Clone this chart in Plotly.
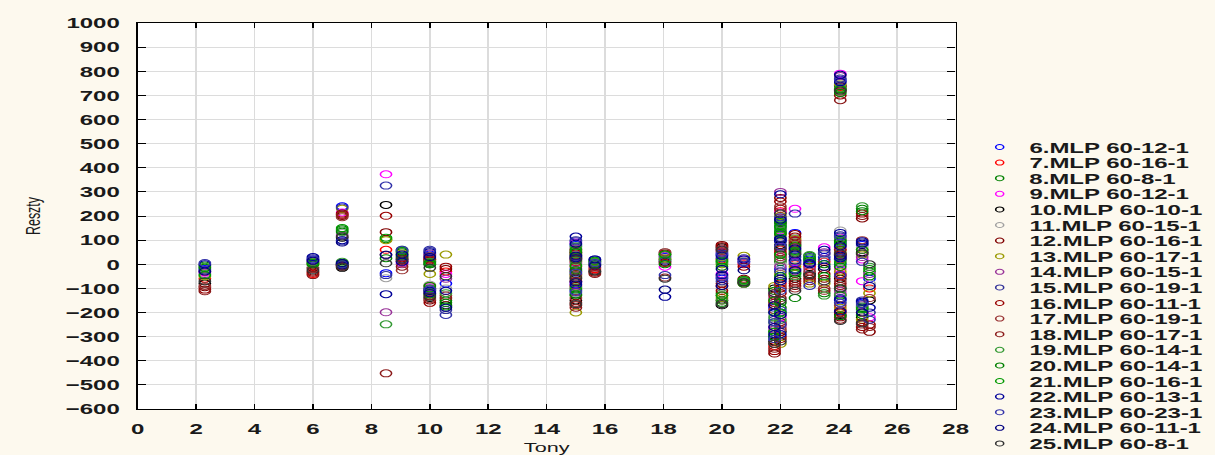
import plotly.graph_objects as go

# Observation positions (Tony) shared by every model series
x_tony = [2.3, 6.0, 7.0, 7.0, 8.5, 9.05, 10.0, 10.0, 10.55, 15.0, 15.0, 15.0, 15.65, 18.05,
          20.0, 20.0, 20.75, 21.8, 21.8, 22.0, 22.0, 22.0, 22.0, 22.5, 22.5, 23.0, 23.5,
          24.05, 24.05, 24.05, 24.05, 24.8, 24.8, 25.05]

series_names = ["6.MLP 60-12-1", "7.MLP 60-16-1", "8.MLP 60-8-1", "9.MLP 60-12-1",
                "10.MLP 60-10-1", "11.MLP 60-15-1", "12.MLP 60-16-1", "13.MLP 60-17-1",
                "14.MLP 60-15-1", "15.MLP 60-19-1", "16.MLP 60-11-1", "17.MLP 60-19-1",
                "18.MLP 60-17-1", "19.MLP 60-14-1", "20.MLP 60-14-1", "21.MLP 60-16-1",
                "22.MLP 60-13-1", "23.MLP 60-23-1", "24.MLP 60-11-1", "25.MLP 60-8-1"]

series_colors = ["#0000FF", "#FF0000", "#008000", "#FF00FF", "#000000", "#A0A0A0",
                 "#800000", "#9A9A00", "#993399", "#333399", "#990000", "#993333",
                 "#8B1A1A", "#339933", "#008000", "#009900", "#000099", "#3333AA",
                 "#000080", "#333333"]

s6 = [-20, 20, 240, 0, -37, 20, 40, -100, -80, 80, -20, -110, 0, 30, 40, -60, 10, -300, -180, 180, 100, -20, -200, 130, -20, 20, 30, 760, 90, 0, -150, 80, -160, -60]
s7 = [-60, -40, 205, -5, 60, 10, 20, -120, -30, 60, 10, -90, -20, 20, 20, -90, 0, -340, -150, 220, 60, -80, -250, 100, 0, -10, 10, 735, 60, -40, -190, 60, -200, -100]
s8 = [-5, 5, 145, 5, 104, 50, 10, -110, -150, 40, -40, -130, 10, 40, 10, -120, -70, -280, -200, 160, 130, 10, -180, 90, -40, 35, -120, 720, 100, 20, -130, 230, -180, -30]
s9 = [-35, 10, 215, 0, 373, 5, 30, -95, -40, 90, 20, -80, -10, -10, 60, -40, 20, -260, -120, 215, 140, 30, -220, 230, 10, 0, 70, 790, 110, -20, -120, 20, -70, -220]
s10 = [-80, -15, 110, -15, 246, 30, 0, -140, -170, 30, -60, -150, -30, 10, 70, -170, -75, -320, -100, 170, 80, -60, -280, 80, -60, -40, -20, 740, 80, -60, -210, 50, -220, -150]
s11 = [-40, -5, 130, 0, -58, 40, 5, -85, -100, 70, 0, -120, 15, 50, 30, -100, 15, -250, -210, 190, 90, 0, -210, 110, 20, 10, 40, 750, 140, 10, -160, 70, -190, -80]
s12 = [-95, -30, 200, -10, 133, 15, 25, -150, -20, 50, -30, -160, -25, 45, 80, -80, -60, -370, -160, 275, 40, -100, -300, 125, -90, -60, -60, 725, 30, -80, -220, 190, -240, -280]
s13 = [-50, 0, 230, 0, 100, 45, -40, -90, 40, 35, -50, -200, -5, 25, 0, -140, 35, -290, -90, 200, 120, -40, -330, 105, -10, -80, -80, 745, 50, -30, -180, 40, -230, -120]
s14 = [-30, 15, 120, 5, -199, 0, 45, -105, -60, 65, 5, -100, 5, 35, 50, -50, 5, -270, -140, 300, 70, -10, -260, 70, -30, -20, 50, 780, 70, 40, -110, 30, -170, -40]
s15 = [-25, 25, 235, 0, -45, 55, 55, -115, -190, 100, 30, -70, 20, 15, 25, -70, 25, -310, -230, 150, 110, -30, -190, 60, 30, 30, 20, 770, 120, 30, -140, 90, -150, -200]
s16 = [-105, -35, 210, -5, 201, 25, 15, -160, -10, 45, -70, -170, -35, 5, 75, -110, -10, -360, -170, 260, 50, -120, -310, 115, -80, -50, -40, 700, 40, -50, -200, 210, -260, -250]
s17 = [-90, -20, 195, 0, 39, -25, 35, -145, -130, 55, -45, -140, -15, 50, 55, -130, -65, -330, -190, 240, 30, -90, -270, 95, -100, -30, -100, 715, 20, -70, -170, 100, -250, -140]
s18 = [-112, -45, 205, -5, -452, -10, 20, -130, -140, 25, -10, -180, -40, -55, 65, -150, -80, -350, -130, 230, 20, -140, -240, 85, -70, -70, -110, 680, 60, -90, -230, 200, -270, -260]
s19 = [-10, 10, 140, 10, -249, 60, 10, -100, -120, 75, 15, -95, 10, 20, 5, -150, -70, -240, -220, 165, 145, 20, -230, 50, -50, 38, -130, 730, 105, 15, -125, 240, -175, -10]
s20 = [-15, 0, 135, 5, 25, 35, 5, -90, -160, 50, -25, -125, 0, 0, -10, -160, -80, -300, -110, 175, 125, -50, -160, 75, -140, 15, 0, 710, 95, -10, -215, 220, -210, -50]
s21 = [-45, 5, 150, 0, 110, 55, 0, -125, -175, 60, -5, -105, 15, 40, 15, -130, -65, -280, -150, 155, 135, 40, -200, 55, -35, 25, -50, 725, 85, 5, -100, 60, -185, -20]
s22 = [0, 30, 100, -5, -124, 10, 50, -110, -110, 115, 25, -85, 20, -135, 35, -45, 20, -290, -200, 290, 95, -70, -290, 40, 15, 5, 60, 755, 130, 25, -145, 95, -155, -180]
s23 = [5, 20, 95, 0, 326, 60, 60, -105, -210, 95, -35, -115, 5, -45, 45, -55, 10, -310, -240, 195, 75, -110, -250, 210, 5, -90, 45, 765, 115, -45, -160, 10, -165, -230]
s24 = [-30, 15, 90, 5, 39, 40, 30, -120, -180, 85, 35, -75, -5, -105, -20, -90, -25, -260, -170, 185, 105, -60, -210, 65, -25, 0, -10, 785, 75, 35, -195, 85, -200, -90]
s25 = [-70, -25, 115, -10, 4, 20, -15, -135, -50, 20, -55, -165, -30, -60, 60, -165, -75, -330, -120, 210, 65, -150, -320, 45, -110, -45, -70, 720, 45, -100, -235, 45, -245, 0]

series_values = [s6, s7, s8, s9, s10, s11, s12, s13, s14, s15, s16, s17, s18, s19,
                 s20, s21, s22, s23, s24, s25]

x_ticks = list(range(0, 29, 2))
y_ticks = list(range(-600, 1001, 100))

# The reference is a horizontally stretched render; draw narrow and stretch with CSS.
STRETCH = 1215 / 759
W0 = 759
H = 455
ML, MR, MT, MB = 86, 162, 23, 46
PAPER = "#FDF9EE"
FONT = "Liberation Sans, Arial, sans-serif"

fig = go.Figure()
for name, col, vals in zip(series_names, series_colors, series_values):
    fig.add_trace(go.Scatter(
        x=x_tony[:len(vals)], y=vals, mode="markers", name=name, showlegend=False,
        marker=dict(symbol="circle-open", size=7, color=col, line=dict(width=1, color=col)),
    ))

axis_common = dict(
    showline=True, linecolor="black", linewidth=1.3, mirror="ticks",
    ticks="inside", ticklen=5, tickwidth=1, tickcolor="black",
    showgrid=True, gridcolor="#DCDCDC", gridwidth=1, zeroline=False,
    automargin=False,
    tickfont=dict(family=FONT, size=15, color="#1a1a1a", weight="bold"),
)

fig.update_layout(
    width=W0, height=H,
    margin=dict(l=ML, r=MR, t=MT, b=MB, autoexpand=False),
    paper_bgcolor=PAPER, plot_bgcolor="white",
    showlegend=False,
    xaxis=dict(range=[0, 28], tickvals=x_ticks, ticklabelstandoff=6,
               title=dict(text="Tony", font=dict(family=FONT, size=13.5, color="#1a1a1a"), standoff=13),
               **axis_common),
    yaxis=dict(range=[-600, 1000], tickvals=y_ticks, ticklabelstandoff=7,
               title=dict(text="Reszty", font=dict(family=FONT, size=12.5, color="#1a1a1a"), standoff=12),
               **axis_common),
)

# Legend drawn at the right, with the reference's tight row spacing
plot_w = W0 - ML - MR
plot_h = H - MT - MB
marker_xp = (624.5 - ML) / plot_w
text_xp = (641 - ML) / plot_w
for i, (name, col) in enumerate(zip(series_names, series_colors)):
    ypx = 147 + i * 15.6
    yp = (H - MB - ypx) / plot_h
    fig.add_shape(type="circle", xref="paper", yref="paper",
                  xsizemode="pixel", ysizemode="pixel",
                  xanchor=marker_xp, yanchor=yp, x0=-2.5, x1=2.5, y0=-2.5, y1=2.5,
                  line=dict(color=col, width=1))
    fig.add_annotation(text=name, xref="paper", yref="paper", x=text_xp, y=yp,
                       xanchor="left", yanchor="middle", showarrow=False,
                       font=dict(family=FONT, size=15, color="#1a1a1a", weight="bold"))

js = f"""
document.body.style.margin='0';
document.body.style.overflow='hidden';
document.body.style.background='{PAPER}';
var gd=document.getElementById('{{plot_id}}');
gd.style.transformOrigin='0 0';
gd.style.transform='scaleX({STRETCH:.5f})';
"""
fig.write_html("out.html", post_script=js, config={"displayModeBar": False})
